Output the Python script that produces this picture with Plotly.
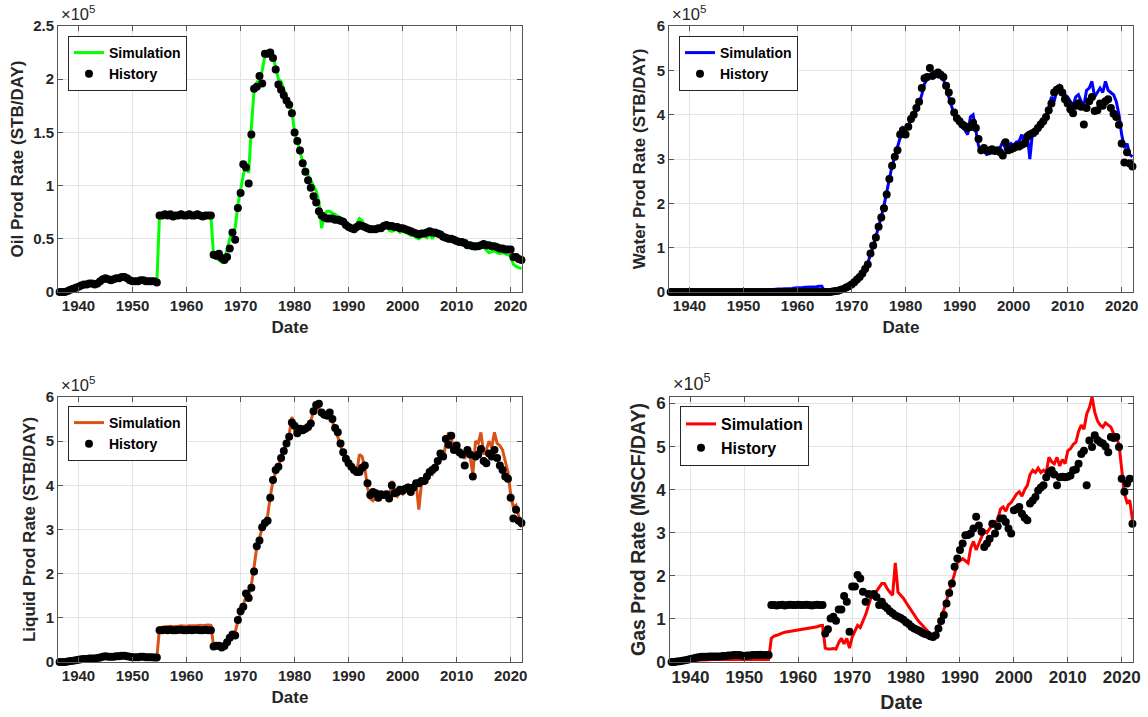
import plotly.graph_objects as go

W, H = 1148, 717
E5 = 1e5

# half-year date grid, 1936.5 .. 2022.0
dates = [1936.5 + 0.5 * i for i in range(172)]
x_ticks = [1940, 1950, 1960, 1970, 1980, 1990, 2000, 2010, 2020]

# ---------------- values in units of 1e5 ----------------
oil_hist = [
    0.00, 0.00, 0.00, 0.01, 0.02, 0.03, 0.04,
    0.05, 0.06, 0.07, 0.07, 0.08, 0.08, 0.07, 0.08, 0.10, 0.12, 0.13, 0.12, 0.11, 0.12, 0.13, 0.13, 0.14, 0.14, 0.13, 0.11,
    0.10, 0.10, 0.10, 0.11, 0.11, 0.10, 0.10, 0.10, 0.10, 0.09, 0.72, 0.72, 0.73, 0.72, 0.73, 0.71, 0.72, 0.72, 0.73, 0.72,
    0.72, 0.73, 0.72, 0.72, 0.73, 0.72, 0.71, 0.72, 0.72, 0.72, 0.35, 0.34, 0.36, 0.32, 0.30, 0.33, 0.41, 0.56, 0.49, 0.79,
    0.93, 1.20, 1.17, 1.02, 1.48, 1.91, 1.93, 2.03, 1.96, 2.24, 2.24, 2.25, 2.20, 2.09, 1.95, 1.90, 1.85, 1.80, 1.76, 1.68,
    1.50, 1.42, 1.33, 1.21, 1.13, 1.05, 0.98, 0.90, 0.84, 0.76, 0.72, 0.70, 0.69, 0.69, 0.69, 0.68, 0.68, 0.67, 0.66, 0.63,
    0.61, 0.60, 0.59, 0.61, 0.63, 0.62, 0.61, 0.60, 0.59, 0.59, 0.59, 0.60, 0.60, 0.62, 0.63, 0.62, 0.62, 0.61, 0.61, 0.60,
    0.60, 0.59, 0.58, 0.57, 0.56, 0.55, 0.54, 0.55, 0.55, 0.56, 0.57, 0.56, 0.56, 0.55, 0.54, 0.52, 0.51, 0.50, 0.50, 0.49,
    0.48, 0.47, 0.47, 0.46, 0.44, 0.44, 0.43, 0.43, 0.43, 0.44, 0.45, 0.44, 0.44, 0.43, 0.43, 0.42, 0.41, 0.41, 0.40, 0.40,
    0.40, 0.33, 0.33, 0.31, 0.30,
]
oil_sim = [
    0.00, 0.00, 0.01, 0.01, 0.02, 0.03, 0.04,
    0.05, 0.06, 0.07, 0.07, 0.08, 0.08, 0.07, 0.08, 0.10, 0.12, 0.13, 0.12, 0.11, 0.12, 0.13, 0.13, 0.14, 0.14, 0.13, 0.11,
    0.10, 0.10, 0.10, 0.11, 0.11, 0.10, 0.10, 0.10, 0.10, 0.09, 0.73, 0.72, 0.74, 0.73, 0.73, 0.72, 0.74, 0.73, 0.73, 0.72,
    0.73, 0.73, 0.72, 0.73, 0.74, 0.72, 0.72, 0.73, 0.73, 0.72, 0.34, 0.32, 0.30, 0.28, 0.30, 0.40, 0.50, 0.55, 0.60, 0.82,
    0.98, 1.10, 1.20, 1.12, 1.55, 1.90, 1.97, 2.00, 2.08, 2.22, 2.26, 2.26, 2.22, 2.12, 2.00, 1.98, 1.90, 1.82, 1.76, 1.70,
    1.50, 1.42, 1.32, 1.22, 1.15, 1.10, 1.05, 1.00, 0.95, 0.85, 0.60, 0.72, 0.76, 0.76, 0.74, 0.73, 0.71, 0.70, 0.68, 0.66,
    0.63, 0.62, 0.61, 0.64, 0.69, 0.67, 0.62, 0.60, 0.58, 0.58, 0.59, 0.58, 0.60, 0.61, 0.62, 0.58, 0.57, 0.58, 0.59, 0.56,
    0.57, 0.56, 0.55, 0.53, 0.54, 0.51, 0.50, 0.52, 0.53, 0.51, 0.55, 0.50, 0.55, 0.56, 0.53, 0.51, 0.50, 0.48, 0.48, 0.47,
    0.46, 0.45, 0.44, 0.44, 0.43, 0.42, 0.41, 0.40, 0.42, 0.43, 0.42, 0.39, 0.37, 0.38, 0.39, 0.37, 0.36, 0.37, 0.36, 0.35,
    0.34, 0.26, 0.24, 0.23, 0.22,
]

water_hist = [
    0.0, 0.0, 0.0, 0.0, 0.0, 0.0, 0.0,
    0.0, 0.0, 0.0, 0.0, 0.0, 0.0, 0.0, 0.0, 0.0, 0.0, 0.0, 0.0, 0.0, 0.0, 0.0, 0.0, 0.0, 0.0, 0.0, 0.0,
    0.0, 0.0, 0.0, 0.0, 0.0, 0.0, 0.0, 0.0, 0.0, 0.0, 0.0, 0.0, 0.0, 0.0, 0.0, 0.0, 0.0, 0.0, 0.0, 0.0,
    0.0, 0.0, 0.0, 0.0, 0.0, 0.0, 0.0, 0.0, 0.0, 0.0, 0.0, 0.0, 0.00, 0.01, 0.02, 0.03, 0.05, 0.07, 0.10, 0.13,
    0.17, 0.22, 0.28, 0.34, 0.42, 0.52, 0.62, 0.87, 1.05, 1.23, 1.47, 1.68, 1.89, 2.20, 2.55, 2.85, 3.05, 3.20, 3.55, 3.65,
    3.55, 3.73, 3.90, 4.00, 4.15, 4.29, 4.60, 4.82, 4.85, 5.05, 4.88, 4.92, 4.95, 4.90, 4.85, 4.65, 4.50, 4.30, 4.05, 3.92,
    3.85, 3.78, 3.74, 3.70, 3.72, 3.82, 3.70, 3.45, 3.20, 3.25, 3.20, 3.18, 3.22, 3.18, 3.20, 3.15, 3.08, 3.38, 3.20, 3.22,
    3.25, 3.28, 3.28, 3.32, 3.35, 3.50, 3.55, 3.58, 3.62, 3.70, 3.78, 3.85, 3.95, 4.10, 4.25, 4.50, 4.56, 4.60, 4.50, 4.35,
    4.25, 4.12, 4.03, 4.20, 4.26, 4.18, 3.78, 4.15, 4.30, 4.40, 4.08, 4.10, 4.25, 4.20, 4.30, 4.35, 4.15, 4.02, 3.95, 3.77,
    3.35, 2.92, 3.15, 2.90, 2.83,
]
water_sim = [
    0.0, 0.0, 0.0, 0.0, 0.0, 0.0, 0.0,
    0.0, 0.0, 0.0, 0.0, 0.0, 0.0, 0.0, 0.0, 0.0, 0.0, 0.0, 0.0, 0.0, 0.0, 0.0, 0.0, 0.0, 0.0, 0.0, 0.0,
    0.0, 0.0, 0.0, 0.0, 0.0, 0.0, 0.0, 0.0, 0.0, 0.0, 0.05, 0.06, 0.06, 0.07, 0.07, 0.07, 0.08, 0.08, 0.08, 0.09,
    0.09, 0.10, 0.10, 0.11, 0.11, 0.12, 0.12, 0.12, 0.13, 0.13, 0.01, 0.01, 0.01, 0.02, 0.03, 0.04, 0.06, 0.08, 0.11, 0.14,
    0.18, 0.23, 0.29, 0.35, 0.43, 0.53, 0.65, 0.85, 1.02, 1.25, 1.45, 1.70, 1.95, 2.25, 2.55, 2.85, 3.05, 3.25, 3.50, 3.70,
    3.65, 3.75, 3.85, 3.98, 4.10, 4.25, 4.45, 4.70, 4.80, 4.85, 4.82, 4.88, 4.85, 4.88, 4.80, 4.60, 4.35, 4.20, 4.00, 3.85,
    3.78, 3.72, 3.65, 3.55, 3.95, 4.00, 3.60, 3.30, 3.15, 3.18, 3.10, 3.12, 3.20, 3.22, 3.15, 3.25, 3.40, 3.22, 3.30, 3.35,
    3.30, 3.38, 3.40, 3.55, 3.35, 3.60, 3.00, 3.60, 3.55, 3.70, 3.85, 3.90, 3.95, 4.15, 4.40, 4.30, 4.55, 4.65, 4.55, 4.45,
    4.40, 4.30, 4.20, 4.40, 4.45, 4.30, 4.20, 4.55, 4.60, 4.75, 4.40, 4.50, 4.60, 4.50, 4.75, 4.55, 4.50, 4.45, 4.30, 4.00,
    3.55, 3.25, 3.35, 3.10, 3.05,
]

liquid_hist = [
    0.00, 0.00, 0.00, 0.01, 0.02, 0.03, 0.04,
    0.05, 0.06, 0.07, 0.07, 0.08, 0.08, 0.08, 0.09, 0.10, 0.12, 0.13, 0.12, 0.12, 0.12, 0.13, 0.13, 0.14, 0.14, 0.13, 0.12,
    0.11, 0.11, 0.11, 0.12, 0.12, 0.11, 0.11, 0.11, 0.10, 0.10, 0.72, 0.72, 0.73, 0.72, 0.73, 0.72, 0.72, 0.73, 0.73, 0.72,
    0.72, 0.73, 0.72, 0.73, 0.73, 0.72, 0.72, 0.73, 0.72, 0.72, 0.35, 0.37, 0.37, 0.33, 0.36, 0.45, 0.55, 0.62, 0.60, 0.95,
    1.15, 1.25, 1.55, 1.45, 1.68, 2.05, 2.62, 2.75, 3.05, 3.15, 3.20, 3.72, 4.12, 4.35, 4.42, 4.62, 4.78, 4.95, 5.10, 5.42,
    5.35, 5.18, 5.28, 5.25, 5.28, 5.32, 5.40, 5.68, 5.82, 5.85, 5.65, 5.60, 5.58, 5.65, 5.50, 5.30, 5.20, 4.95, 4.75, 4.60,
    4.50, 4.42, 4.35, 4.30, 4.30, 4.40, 4.45, 4.05, 3.78, 3.85, 3.82, 3.72, 3.80, 3.78, 3.80, 3.70, 4.00, 3.82, 3.85, 3.90,
    3.88, 3.92, 3.95, 3.85, 3.95, 4.05, 4.05, 4.10, 4.10, 4.20, 4.30, 4.35, 4.40, 4.55, 4.72, 4.65, 5.05, 4.92, 5.12, 4.80,
    4.90, 4.75, 4.70, 4.45, 4.80, 4.70, 4.20, 4.65, 4.70, 4.82, 4.55, 4.50, 4.72, 4.65, 4.80, 4.62, 4.45, 4.35, 4.20, 4.15,
    3.72, 3.25, 3.45, 3.20, 3.15,
]
liquid_sim = [
    0.00, 0.00, 0.01, 0.01, 0.02, 0.03, 0.04,
    0.05, 0.06, 0.07, 0.07, 0.08, 0.08, 0.08, 0.09, 0.10, 0.12, 0.13, 0.12, 0.12, 0.12, 0.13, 0.13, 0.14, 0.14, 0.13, 0.12,
    0.11, 0.11, 0.11, 0.12, 0.12, 0.11, 0.11, 0.11, 0.10, 0.10, 0.78, 0.79, 0.80, 0.80, 0.81, 0.80, 0.80, 0.81, 0.82, 0.81,
    0.81, 0.82, 0.82, 0.81, 0.82, 0.83, 0.82, 0.83, 0.84, 0.83, 0.36, 0.34, 0.32, 0.31, 0.34, 0.44, 0.52, 0.60, 0.68, 0.92,
    1.12, 1.30, 1.48, 1.50, 1.75, 2.15, 2.60, 2.80, 3.05, 3.20, 3.30, 3.75, 4.10, 4.30, 4.45, 4.60, 4.80, 4.95, 5.15, 5.55,
    5.25, 5.15, 5.25, 5.20, 5.25, 5.30, 5.45, 5.70, 5.72, 5.75, 5.58, 5.55, 5.52, 5.58, 5.45, 5.25, 5.10, 4.90, 4.70, 4.55,
    4.45, 4.38, 4.32, 4.28, 4.70, 4.65, 4.40, 3.95, 3.70, 3.65, 3.72, 3.68, 3.80, 3.75, 3.78, 3.70, 4.10, 3.80, 3.75, 3.85,
    3.80, 3.95, 4.00, 3.90, 3.95, 4.05, 3.45, 4.05, 4.15, 4.05, 4.30, 4.25, 4.45, 4.50, 4.75, 4.60, 4.95, 5.20, 5.05, 4.85,
    4.75, 4.80, 4.70, 4.60, 4.85, 4.65, 4.25, 5.00, 4.95, 5.20, 4.70, 4.80, 5.00, 4.85, 5.20, 4.95, 4.90, 4.80, 4.55, 4.30,
    3.80, 3.50, 3.55, 3.30, 3.05,
]

gas_hist = [
    0.00, 0.00, 0.01, 0.02, 0.03, 0.04, 0.05,
    0.07, 0.08, 0.10, 0.11, 0.12, 0.12, 0.12, 0.13, 0.13, 0.13, 0.13, 0.13, 0.14, 0.14, 0.15, 0.15, 0.16, 0.16, 0.16, 0.15,
    0.14, 0.15, 0.15, 0.16, 0.16, 0.16, 0.17, 0.16, 0.16, 0.16, 1.32, 1.32, 1.31, 1.32, 1.33, 1.31, 1.32, 1.33, 1.32, 1.32,
    1.33, 1.32, 1.32, 1.33, 1.32, 1.31, 1.32, 1.33, 1.32, 1.32, 0.66, 0.76, 1.01, 1.05, 0.96, 1.22, 1.22, 1.53, 1.40, 0.70,
    1.75, 1.75, 2.02, 1.94, 1.63, 1.40, 1.58, 1.56, 1.58, 1.51, 1.32, 1.40, 1.30, 1.25, 1.18, 1.13, 1.08, 1.05, 1.02, 0.98,
    0.92, 0.88, 0.82, 0.78, 0.75, 0.72, 0.68, 0.65, 0.63, 0.60, 0.58, 0.62, 0.78, 0.95, 1.09, 1.36, 1.60, 1.82, 2.21, 2.40,
    2.60, 2.75, 2.94, 2.95, 2.98, 3.10, 3.37, 3.17, 3.02, 2.67, 2.75, 2.86, 3.21, 2.98, 3.15, 3.33, 3.33, 3.25, 3.10, 2.98,
    3.52, 3.55, 3.60, 3.44, 3.35, 3.29, 3.68, 3.75, 3.83, 3.98, 4.05, 4.10, 4.29, 4.40, 4.45, 4.35, 4.10, 4.29, 4.30, 4.29,
    4.30, 4.33, 4.45, 4.47, 4.60, 4.83, 4.90, 4.10, 5.14, 4.99, 5.26, 5.15, 5.10, 5.07, 5.00, 4.87, 5.22, 5.20, 5.22, 4.99,
    4.25, 3.95, 4.14, 4.25, 3.21,
]
gas_sim = [
    0.00, 0.00, 0.00, 0.01, 0.01, 0.02, 0.02,
    0.03, 0.03, 0.04, 0.04, 0.05, 0.05, 0.05, 0.05, 0.06, 0.06, 0.06, 0.06, 0.06, 0.07, 0.07, 0.07, 0.07, 0.07, 0.07, 0.07,
    0.06, 0.06, 0.06, 0.06, 0.06, 0.06, 0.06, 0.06, 0.06, 0.06, 0.55, 0.60, 0.62, 0.65, 0.67, 0.69, 0.70, 0.72, 0.73, 0.74,
    0.75, 0.76, 0.77, 0.78, 0.79, 0.80, 0.81, 0.82, 0.84, 0.85, 0.32, 0.30, 0.30, 0.31, 0.30, 0.45, 0.55, 0.42, 0.55, 0.32,
    0.58, 0.70, 0.85, 0.80, 0.95, 1.10, 1.30, 1.50, 1.55, 1.65, 1.75, 1.82, 1.82, 1.70, 1.62, 1.55, 2.30, 1.62, 1.55, 1.48,
    1.38, 1.28, 1.18, 1.08, 1.00, 0.92, 0.85, 0.78, 0.72, 0.65, 0.52, 0.65, 0.80, 1.00, 1.20, 1.40, 1.62, 1.80, 2.05, 2.30,
    2.35, 2.40, 2.35, 2.30, 2.65, 2.80, 2.60, 2.75, 2.90, 3.05, 3.00, 3.10, 3.15, 3.25, 3.30, 3.55, 3.60, 3.50, 3.65, 3.70,
    3.80, 3.90, 3.95, 3.85, 4.00, 4.10, 4.35, 4.45, 4.40, 4.50, 4.40, 4.45, 4.40, 4.75, 4.65, 4.60, 4.75, 4.55, 4.70, 4.60,
    4.90, 4.95, 5.05, 5.10, 5.35, 5.50, 5.40, 5.75, 5.90, 6.15, 5.80, 5.60, 5.50, 5.45, 5.55, 5.50, 5.45, 5.30, 5.20, 5.05,
    4.40, 3.90, 3.70, 3.75, 3.30,
]

oil_yticks = [0, 0.5, 1, 1.5, 2, 2.5]
rate_yticks = [0, 1, 2, 3, 4, 5, 6]

# panel boxes in pixels: (left, top, right, bottom)
panels = [
    dict(sim=oil_sim, hist=oil_hist, color="#00ff00", ytitle="Oil Prod Rate (STB/DAY)",
         yticks=oil_yticks, ymax=2.5, box=(58, 26, 522, 292), leg=(68, 36),
         fs=15, tfs=17, lfs=14, efs=16.5, xst=8, yst=5),
    dict(sim=water_sim, hist=water_hist, color="#0000ff", ytitle="Water Prod Rate (STB/DAY)",
         yticks=rate_yticks, ymax=6.0, box=(669, 26, 1133, 292), leg=(679, 36),
         fs=15, tfs=17, lfs=14, efs=16.5, xst=8, yst=6),
    dict(sim=liquid_sim, hist=liquid_hist, color="#d95319", ytitle="Liquid Prod Rate (STB/DAY)",
         yticks=rate_yticks, ymax=6.0, box=(58, 397, 522, 662), leg=(68, 406),
         fs=15, tfs=17, lfs=14, efs=16.5, xst=8, yst=5),
    dict(sim=gas_sim, hist=gas_hist, color="#ff0000", ytitle="Gas Prod Rate (MSCF/DAY)",
         yticks=rate_yticks, ymax=6.15, box=(670, 397, 1133, 662), leg=(680, 406),
         fs=17, tfs=19.5, lfs=16, efs=18, xst=8, yst=5),
]

FONT = "Liberation Sans, Arial, Helvetica, sans-serif"
TXT = "#262626"

fig = go.Figure()
layout = dict(
    width=W, height=H, margin=dict(l=0, r=0, t=0, b=0, autoexpand=False),
    paper_bgcolor="white", plot_bgcolor="white", showlegend=True,
    font=dict(family=FONT, color=TXT),
)
annotations = []


def fmt(v):
    return "%g" % v


for i, p in enumerate(panels, start=1):
    sfx = "" if i == 1 else str(i)
    leg = "legend" if i == 1 else "legend%d" % i
    l, t, r, b = p["box"]
    fig.add_trace(go.Scatter(
        x=dates, y=[v * E5 for v in p["sim"]], mode="lines", name="Simulation",
        line=dict(color=p["color"], width=3), xaxis="x" + sfx, yaxis="y" + sfx, legend=leg,
    ))
    fig.add_trace(go.Scatter(
        x=dates, y=[v * E5 for v in p["hist"]], mode="markers", name="History",
        marker=dict(color="black", size=8), cliponaxis=False,
        xaxis="x" + sfx, yaxis="y" + sfx, legend=leg,
    ))
    axis_common = dict(
        showline=True, linecolor="#555555", linewidth=1, mirror="ticks",
        ticks="inside", ticklen=5, tickcolor="#555555", tickwidth=1,
        showgrid=True, gridcolor="#e4e4e4", gridwidth=1, zeroline=False,
        tickfont=dict(family=FONT, size=p["fs"], color=TXT, weight="bold"),
    )
    layout["xaxis" + sfx] = dict(
        axis_common, domain=[l / W, r / W], anchor="y" + sfx,
        range=[1936.2, 2022.1], tickmode="array", tickvals=x_ticks,
        ticktext=[str(v) for v in x_ticks],
        title=dict(text="Date", font=dict(family=FONT, size=p["tfs"], color=TXT, weight="bold"),
                   standoff=p["xst"]),
    )
    layout["yaxis" + sfx] = dict(
        axis_common, domain=[1 - b / H, 1 - t / H], anchor="x" + sfx,
        range=[0, p["ymax"] * E5], tickmode="array",
        tickvals=[v * E5 for v in p["yticks"]], ticktext=[fmt(v) for v in p["yticks"]],
        title=dict(text=p["ytitle"], font=dict(family=FONT, size=p["tfs"], color=TXT, weight="bold"),
                   standoff=p["yst"]),
    )
    layout[leg] = dict(
        x=p["leg"][0] / W, y=1 - p["leg"][1] / H, xanchor="left", yanchor="top",
        bgcolor="white", bordercolor="#262626", borderwidth=1,
        font=dict(family=FONT, size=p["lfs"], color="black", weight="bold"),
        tracegroupgap=0, itemwidth=30,
    )
    annotations.append(dict(
        x=(l + 1) / W, y=1 - (t - 1) / H, xref="paper", yref="paper",
        xanchor="left", yanchor="bottom", showarrow=False,
        text="\u00d710<sup>5</sup>", font=dict(family=FONT, size=p["efs"], color=TXT),
    ))

layout["annotations"] = annotations
fig.update_layout(**layout)
fig.write_html(
    "out.html",
    config={"displayModeBar": False},
    post_script="document.body.style.margin='0';document.body.style.padding='0';"
                "document.body.style.overflow='hidden';",
)
